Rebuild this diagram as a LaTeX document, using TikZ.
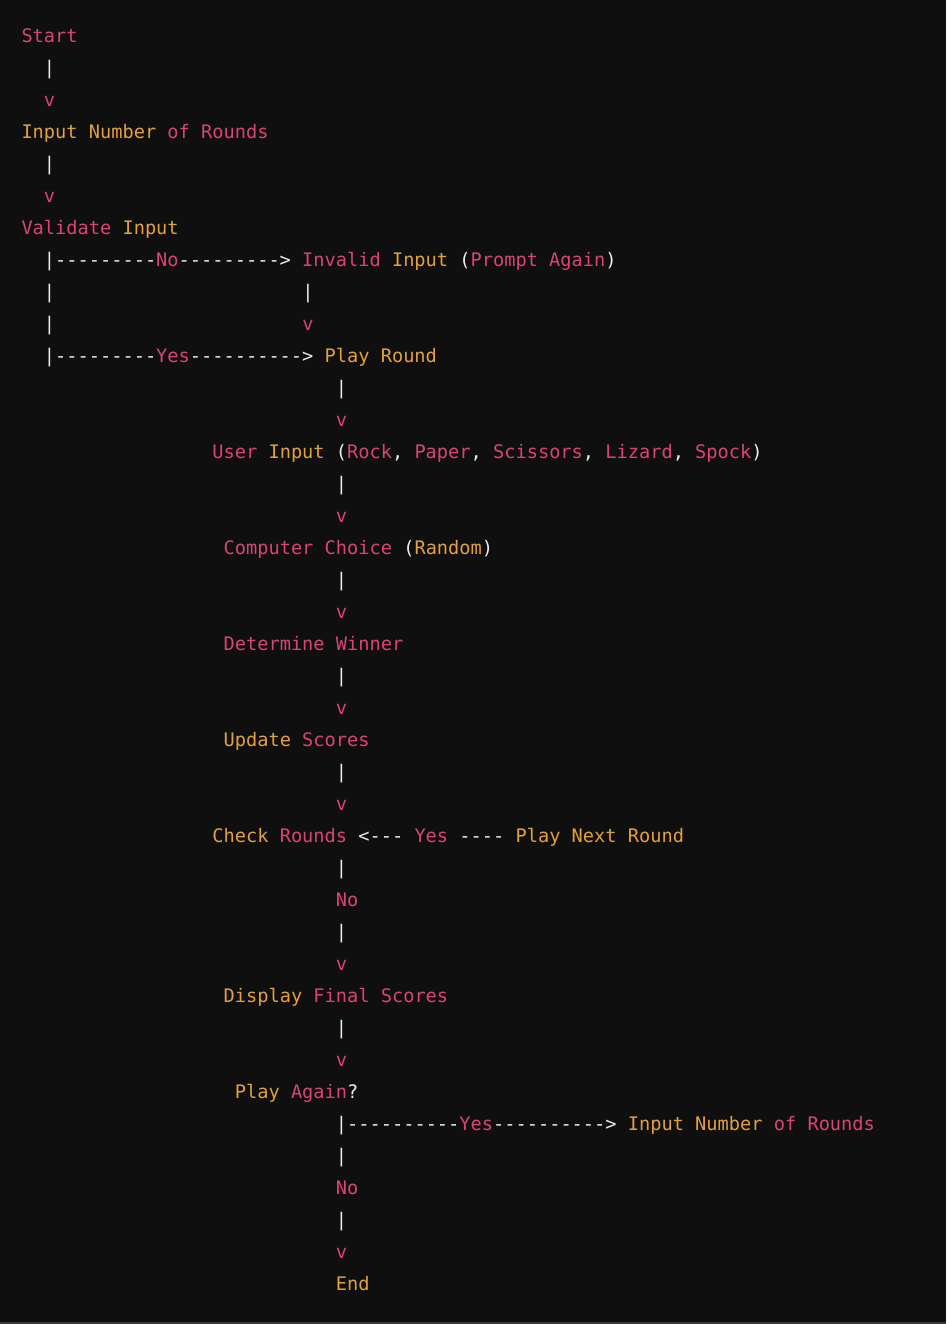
\documentclass[tikz,border=0pt]{standalone}
\usepackage{fontspec}
\setmonofont{DejaVu Sans Mono}
\definecolor{bgc}{HTML}{0F0F0F}
\definecolor{edgec}{HTML}{3A3A3A}
\definecolor{pinkc}{HTML}{D9437A}
\definecolor{orangec}{HTML}{E4A03C}
\definecolor{whitec}{HTML}{EDEDED}
\newcommand\cpk[1]{\textcolor{pinkc}{#1}}
\newcommand\cor[1]{\textcolor{orangec}{#1}}
\tikzset{
  ln/.style={anchor=base west, inner sep=0pt, outer sep=0pt, text=whitec,
    font=\ttfamily\fontsize{18.65}{18.65}\selectfont},
}
\begin{document}
\begin{tikzpicture}
\useasboundingbox (0pt,0pt) rectangle (946pt,-1324pt);
\fill[bgc] (0pt,0pt) rectangle (946pt,-1324pt);
\fill[edgec] (0pt,-1321.5pt) rectangle (946pt,-1324pt);
\begin{scope}[x=11.23pt, y=-32pt, shift={(21.5pt,-42.5pt)}]
\node[ln] (start) at (0,0) {\cpk{Start}};
\node[ln] (b1) at (2,1) {|};
\node[ln] (a1) at (2,2) {\cpk{v}};
\node[ln] (inp) at (0,3) {\cor{Input} \cor{Number} \cpk{of} \cpk{Rounds}};
\node[ln] (b2) at (2,4) {|};
\node[ln] (a2) at (2,5) {\cpk{v}};
\node[ln] (val) at (0,6) {\cpk{Validate} \cor{Input}};
\node[ln] (no1) at (2,7) {|---------\cpk{No}---------> \cpk{Invalid} \cor{Input} (\cpk{Prompt} \cpk{Again})};
\node[ln] (b3) at (2,8) {|};
\node[ln] (b4) at (25,8) {|};
\node[ln] (b5) at (2,9) {|};
\node[ln] (a3) at (25,9) {\cpk{v}};
\node[ln] (yes1) at (2,10) {|---------\cpk{Yes}----------> \cor{Play} \cor{Round}};
\node[ln] (b6) at (28,11) {|};
\node[ln] (a4) at (28,12) {\cpk{v}};
\node[ln] (user) at (17,13) {\cpk{User} \cor{Input} (\cpk{Rock}, \cpk{Paper}, \cpk{Scissors}, \cpk{Lizard}, \cpk{Spock})};
\node[ln] (b7) at (28,14) {|};
\node[ln] (a5) at (28,15) {\cpk{v}};
\node[ln] (comp) at (18,16) {\cpk{Computer} \cpk{Choice} (\cor{Random})};
\node[ln] (b8) at (28,17) {|};
\node[ln] (a6) at (28,18) {\cpk{v}};
\node[ln] (det) at (18,19) {\cpk{Determine} \cpk{Winner}};
\node[ln] (b9) at (28,20) {|};
\node[ln] (a7) at (28,21) {\cpk{v}};
\node[ln] (upd) at (18,22) {\cor{Update} \cpk{Scores}};
\node[ln] (b10) at (28,23) {|};
\node[ln] (a8) at (28,24) {\cpk{v}};
\node[ln] (chk) at (17,25) {\cor{Check} \cpk{Rounds} <--- \cpk{Yes} ---- \cor{Play} \cor{Next} \cor{Round}};
\node[ln] (b11) at (28,26) {|};
\node[ln] (no2) at (28,27) {\cpk{No}};
\node[ln] (b12) at (28,28) {|};
\node[ln] (a9) at (28,29) {\cpk{v}};
\node[ln] (disp) at (18,30) {\cor{Display} \cpk{Final} \cpk{Scores}};
\node[ln] (b13) at (28,31) {|};
\node[ln] (a10) at (28,32) {\cpk{v}};
\node[ln] (again) at (19,33) {\cor{Play} \cpk{Again}?};
\node[ln] (yes2) at (28,34) {|----------\cpk{Yes}----------> \cor{Input} \cor{Number} \cpk{of} \cpk{Rounds}};
\node[ln] (b14) at (28,35) {|};
\node[ln] (no3) at (28,36) {\cpk{No}};
\node[ln] (b15) at (28,37) {|};
\node[ln] (a11) at (28,38) {\cpk{v}};
\node[ln] (end) at (28,39) {\cor{End}};
\end{scope}
\end{tikzpicture}
\end{document}
